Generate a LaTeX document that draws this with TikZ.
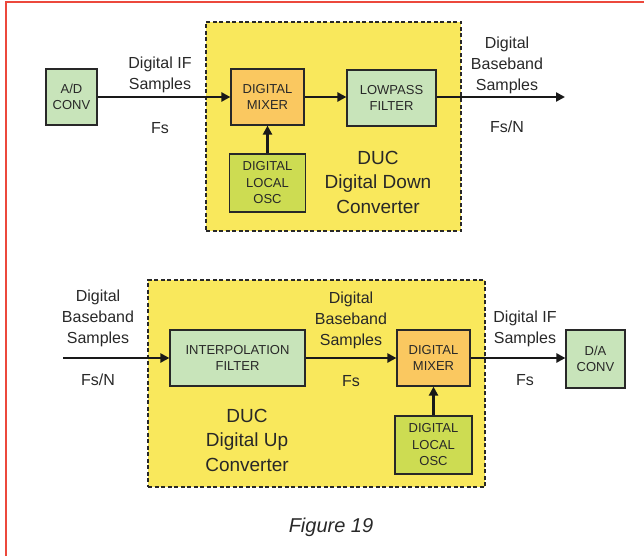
\documentclass[tikz,border=0pt]{standalone}
\usepackage{fontspec}
\setmainfont{Liberation Sans}
\usetikzlibrary{arrows.meta}
\definecolor{ducyellow}{RGB}{249,232,92}
\definecolor{mixorange}{RGB}{250,200,96}
\definecolor{convgreen}{RGB}{200,228,186}
\definecolor{oscgreen}{RGB}{205,220,82}
\definecolor{framered}{RGB}{236,72,60}
\definecolor{ink}{RGB}{40,40,40}
\newcommand{\boxfont}{\fontsize{13}{16.5}\selectfont}
\newcommand{\sigfont}{\fontsize{16}{21}\selectfont}
\newcommand{\ducfont}{\fontsize{19}{24.5}\selectfont}

\begin{document}
\begin{tikzpicture}[x=1pt,y=-1pt,
  blk/.style={draw=ink,line width=1.2pt,inner sep=0pt,align=center,text=ink,font=\boxfont},
  sig/.style={draw=black!90,line width=2.4pt,-{Triangle[length=9pt,width=9pt]}},
  lbl/.style={align=center,inner sep=0pt,text=ink,font=\sigfont},
  ducbox/.style={draw=ink,fill=ducyellow,line width=1.7pt,dash pattern=on 4pt off 2.5pt,inner sep=0pt}]
  \useasboundingbox (0,0) rectangle (644,556);
  \draw[framered,line width=2pt] (5.5,556) -- (5.5,2) -- (644,2);
  % down converter
  \node[ducbox,minimum width=255pt,minimum height=209pt](DDC) at (333.5,126.5){};
  \node[blk,fill=convgreen,minimum width=51pt,minimum height=56pt](ADC) at (71.5,97){A/D\\CONV};
  \node[blk,fill=mixorange,minimum width=73pt,minimum height=56pt](MIXd) at (267.5,97){DIGITAL\\MIXER};
  \node[blk,fill=convgreen,minimum width=89pt,minimum height=56pt](LPF) at (391.5,98){LOWPASS\\FILTER};
  \node[blk,fill=oscgreen,minimum width=76pt,minimum height=58pt](OSCd) at (267.5,183){DIGITAL\\LOCAL\\OSC};
  \coordinate (OUTd) at (565,97);
  \draw[sig] (ADC) -- (MIXd);
  \draw[sig] (MIXd) -- (MIXd -| LPF.west);
  \draw[sig] (LPF.east |- OUTd) -- (OUTd);
  \draw[sig] (OSCd) -- (MIXd);
  \node[lbl](IFd) at (160,75){Digital IF\\Samples};
  \node[lbl](FSd) at (160,128){Fs};
  \node[lbl](BBd) at (507,65){Digital\\Baseband\\Samples};
  \node[lbl](FNd) at (507,127){Fs/N};
  \node[lbl,font=\ducfont](DDCt) at (378,182){DUC\\Digital Down\\Converter};
  % up converter
  \node[ducbox,minimum width=337pt,minimum height=207pt](DUC) at (316.5,383.5){};
  \coordinate (INu) at (63,358);
  \node[blk,fill=convgreen,minimum width=135pt,minimum height=56pt](INT) at (237.5,358){INTERPOLATION\\FILTER};
  \node[blk,fill=mixorange,minimum width=73pt,minimum height=56pt](MIXu) at (433.5,358){DIGITAL\\MIXER};
  \node[blk,fill=convgreen,minimum width=59pt,minimum height=58pt](DAC) at (595.5,359){D/A\\CONV};
  \node[blk,fill=oscgreen,minimum width=77pt,minimum height=58pt](OSCu) at (433.5,445){DIGITAL\\LOCAL\\OSC};
  \draw[sig] (INu) -- (INT);
  \draw[sig] (INT) -- (MIXu);
  \draw[sig] (MIXu) -- (MIXu -| DAC.west);
  \draw[sig] (OSCu) -- (MIXu);
  \node[lbl](BBu) at (98,318){Digital\\Baseband\\Samples};
  \node[lbl](FNu) at (98,380){Fs/N};
  \node[lbl](BBm) at (351,320){Digital\\Baseband\\Samples};
  \node[lbl](FSm) at (351,381){Fs};
  \node[lbl](IFu) at (525,329){Digital IF\\Samples};
  \node[lbl](FSu) at (525,380){Fs};
  \node[lbl,font=\ducfont](DUCt) at (247,440){DUC\\Digital Up\\Converter};
  \node[lbl,font=\fontsize{20}{24}\selectfont\itshape](FIG) at (331,527){Figure 19};
\end{tikzpicture}
\end{document}
